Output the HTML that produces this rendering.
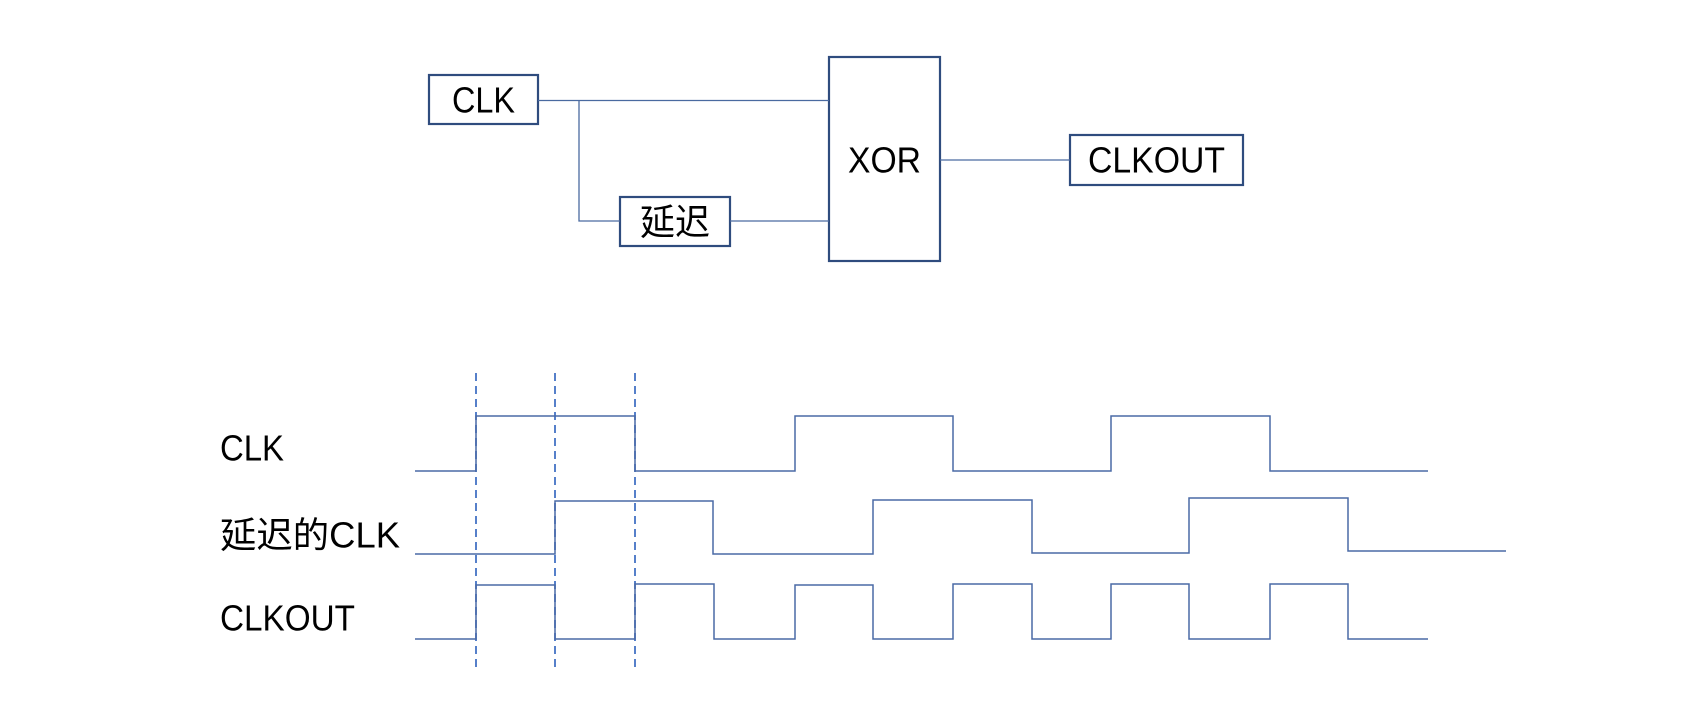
<!DOCTYPE html>
<html><head><meta charset="utf-8"><style>html,body{margin:0;padding:0;background:#fff}svg{display:block}</style></head>
<body>
<svg width="1693" height="718" viewBox="0 0 1693 718" xmlns="http://www.w3.org/2000/svg" font-family="'Liberation Sans','Noto Sans CJK SC',sans-serif" font-size="36" fill="#000">
<g fill="none" stroke="#2f4c7e" stroke-width="2.2">
<rect x="429" y="75" width="109" height="49"/>
<rect x="620" y="197" width="110" height="49"/>
<rect x="829" y="57" width="111" height="204"/>
<rect x="1070" y="135" width="173" height="50"/>
</g>
<g fill="none" stroke="#4a6aa0" stroke-width="1.3">
<polyline points="538,100.5 829,100.5"/>
<polyline points="579,100.5 579,221 620,221"/>
<polyline points="730,221 829,221"/>
<polyline points="940,160 1070,160"/>
</g>
<g text-anchor="middle" dominant-baseline="central" lengthAdjust="spacingAndGlyphs">
<text x="483.5" y="100" textLength="63" lengthAdjust="spacingAndGlyphs">CLK</text>
<text x="675" y="222" textLength="70" lengthAdjust="spacingAndGlyphs">延迟</text>
<text x="884.5" y="160" textLength="73" lengthAdjust="spacingAndGlyphs">XOR</text>
<text x="1156.5" y="160" textLength="137" lengthAdjust="spacingAndGlyphs">CLKOUT</text>
</g>
<g dominant-baseline="central">
<text x="220" y="448" textLength="64" lengthAdjust="spacingAndGlyphs">CLK</text>
<text x="220" y="535" textLength="180" lengthAdjust="spacingAndGlyphs">延迟的CLK</text>
<text x="220" y="618" textLength="135" lengthAdjust="spacingAndGlyphs">CLKOUT</text>
</g>
<g fill="none" stroke="#4472c4" stroke-width="1.8" stroke-dasharray="8,5">
<line x1="476" y1="373" x2="476" y2="670"/>
<line x1="555" y1="373" x2="555" y2="670"/>
<line x1="635" y1="373" x2="635" y2="670"/>
</g>
<g fill="none" stroke="#4a6aa6" stroke-width="1.5">
<polyline points="415,471 476,471 476,416 635,416 635,471 795,471 795,416 953,416 953,471 1111,471 1111,416 1270,416 1270,471 1428,471"/>
<polyline points="415,554 555,554 555,501 713,501 713,554 873,554 873,500 1032,500 1032,553 1189,553 1189,498 1348,498 1348,551 1506,551"/>
<polyline points="415,639 476,639 476,585 555,585 555,639 635,639 635,584 714,584 714,639 795,639 795,585 873,585 873,639 953,639 953,584 1032,584 1032,639 1111,639 1111,584 1189,584 1189,639 1270,639 1270,584 1348,584 1348,639 1428,639"/>
</g>
</svg>
</body></html>
